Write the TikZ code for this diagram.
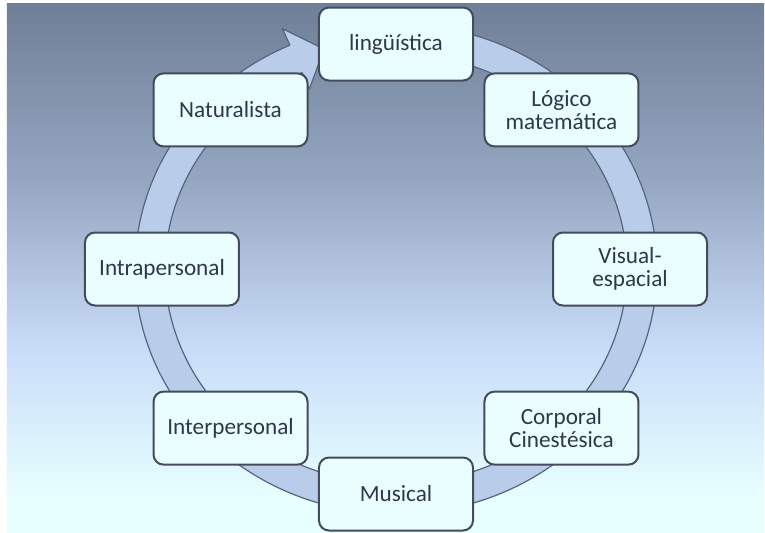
\documentclass[tikz,border=0pt]{standalone}
\usepackage{fontspec}
\setmainfont{Carlito}
\definecolor{bgtop}{HTML}{6F7F97}
\definecolor{bghigh}{HTML}{96A7C2}
\definecolor{bglow}{HTML}{CADDF8}
\definecolor{bgbot}{HTML}{E8FFFF}
\definecolor{ringfill}{HTML}{B9CCEA}
\definecolor{ringline}{HTML}{56657F}
\definecolor{boxfill}{HTML}{EBFEFF}
\definecolor{boxline}{HTML}{434B5C}
\definecolor{boxtext}{HTML}{2F3749}
\pgfdeclareverticalshading{skyback}{100bp}{color(0bp)=(bgbot); color(28bp)=(bgbot);
  color(42bp)=(bglow); color(58bp)=(bghigh); color(75bp)=(bgtop); color(100bp)=(bgtop)}
\begin{document}
\begin{tikzpicture}[x=0.5pt,y=0.5pt,
cyclebox/.style={draw=boxline,fill=boxfill,rectangle,rounded corners=5pt,line width=1pt,
  minimum width=77pt,minimum height=36.5pt,align=center,text=boxtext,
  font=\fontsize{11.6}{11.6}\selectfont},
cyclering/.style={draw=ringline,fill=ringfill,line width=0.6pt,line join=round}]
\useasboundingbox (-396,-263) rectangle (369,269);
\fill[white] (-396,-263) rectangle (369,269);
\shade[shading=skyback] (-389,-263) rectangle (368,266);
\draw[cyclering] (80:261 and 245) arc[start angle=80,end angle=-246,x radius=261,y radius=245]
  -- (114:279 and 263) -- (107:246 and 230) -- (114:213 and 197) -- (114:231 and 215)
  arc[start angle=114,end angle=440,x radius=231,y radius=215] -- cycle;
\draw (90:234 and 225) node[cyclebox] (ling) {lingüística};
\draw (45:234 and 225) node[cyclebox] (logic) {Lógico\\matemática};
\draw (0:234 and 225) node[cyclebox] (visual) {Visual-\\espacial};
\draw (-45:234 and 225) node[cyclebox] (body) {Corporal\\Cinestésica};
\draw (-90:234 and 225) node[cyclebox] (music) {Musical};
\draw (-135:234 and 225) node[cyclebox] (inter) {Interpersonal};
\draw (180:234 and 225) node[cyclebox] (intra) {Intrapersonal};
\draw (135:234 and 225) node[cyclebox] (nature) {Naturalista};

\end{tikzpicture}
\end{document}
